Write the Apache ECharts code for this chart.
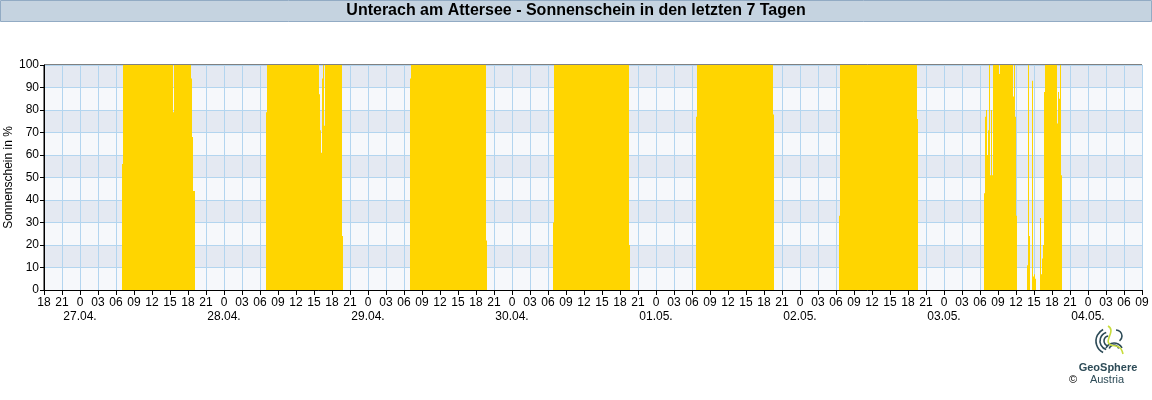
<!DOCTYPE html>
<html>
<head>
<meta charset="utf-8">
<script src="https://cdn.jsdelivr.net/npm/echarts@6/dist/echarts.min.js"></script>
<style>
html,body{margin:0;padding:0;background:#fff;}
#chart{width:1152px;height:400px;}
</style>
</head>
<body>
<div id="chart"></div>
<script>
// Tick/date labels
const dateLabels = ['27.04.', '28.04.', '29.04.', '30.04.', '01.05.', '02.05.', '03.05.', '04.05.'];
const yTicks = [0, 10, 20, 30, 40, 50, 60, 70, 80, 90, 100];

// Sunshine (% per 10 min) – change points per day [time, value]; value holds until next point
const day1 = [['07:00',56],['07:10',100],['15:30',79],['15:40',100],['18:30',94],['18:40',68],['18:50',44],['19:10',0]];
const day2 = [['07:00',79],['07:10',100],['15:50',87],['16:00',71],['16:10',61],['16:20',94],['16:30',100],['16:40',73],['16:50',100],['19:40',24],['19:50',0]];
const day3 = [['07:00',94],['07:10',100],['19:40',22],['19:50',0]];
const day4 = [['06:50',30],['07:00',100],['19:30',20],['19:40',0]];
const day5 = [['06:40',77],['06:50',100],['19:30',78],['19:40',0]];
const day6 = [['06:30',33],['06:40',100],['19:30',76],['19:40',0]];
const day7 = [['06:40',43],['06:50',77],['07:00',80],['07:10',60],['07:20',71],['07:30',100],['07:40',51],['07:50',80],['08:00',51],['08:10',100],
              ['09:10',96],['09:20',100],['11:30',86],['11:40',100],['11:50',77],['12:00',33],['12:10',0],
              ['13:50',11],['14:00',100],['14:10',24],['14:20',0],['14:40',93],['14:50',6],['15:00',7],['15:10',5],['15:20',0],
              ['16:00',32],['16:10',7],['16:20',14],['16:30',20],['16:40',88],['16:50',100],['18:50',74],['19:00',88],['19:10',85],['19:20',100],['19:30',51],['19:40',0]];
const days = [day1, day2, day3, day4, day5, day6, day7];

// segments [startHour, endHour, value], hours since 27.04. 00:00
const segments = [];
days.forEach((d, i) => {
  const pts = d.map(([t, v]) => {
    const [h, m] = t.split(':').map(Number);
    return [i * 24 + h + m / 60, v];
  });
  for (let k = 0; k < pts.length - 1; k++) {
    if (pts[k][1] > 0) segments.push([pts[k][0], pts[k + 1][0], pts[k][1]]);
  }
});

const FONT = "'Liberation Sans', Arial, sans-serif";
const chart = echarts.init(document.getElementById('chart'), null, {renderer: 'canvas'});
const teal = '#2d4b57';
chart.setOption({
  animation: false,
  backgroundColor: '#fff',
  grid: {left: 44, right: 10, top: 65, bottom: 110, containLabel: false, outerBoundsMode: 'none',
         show: true, borderColor: '#000', borderWidth: 1, backgroundColor: 'transparent'},
  xAxis: {
    type: 'value', min: -6, max: 177, interval: 3,
    axisLine: {show: true, onZero: false, lineStyle: {color: '#000', width: 1}},
    axisTick: {show: true, length: 5, lineStyle: {color: '#000'}},
    splitLine: {show: true, lineStyle: {color: '#b3d5ef', width: 1}},
    axisLabel: {
      color: '#000', fontFamily: FONT, fontSize: 12, margin: 6, lineHeight: 14,
      showMinLabel: true, showMaxLabel: true, hideOverlap: false,
      formatter: function (v) {
        const h = ((v % 24) + 24) % 24;
        if (h === 0) {
          const d = Math.round(v / 24);
          return '0\n' + (dateLabels[d] || '');
        }
        return String(h).padStart(2, '0');
      }
    }
  },
  yAxis: {
    type: 'value', min: yTicks[0], max: yTicks[yTicks.length - 1], interval: 10,
    name: 'Sonnenschein in %', nameLocation: 'middle', nameGap: 29, nameMoveOverlap: false,
    nameTextStyle: {color: '#000', fontFamily: FONT, fontSize: 12},
    axisLine: {show: true, onZero: false, lineStyle: {color: '#000', width: 1}},
    axisTick: {show: true, length: 4, lineStyle: {color: '#000'}},
    axisLabel: {color: '#000', fontFamily: FONT, fontSize: 12, margin: 5},
    splitLine: {show: true, lineStyle: {color: '#b3d5ef', width: 1}},
    splitArea: {show: true, areaStyle: {color: ['#f6f8fb', '#e4e9f2']}}
  },
  series: [{
    type: 'custom', data: segments, silent: true, z: 3,
    encode: {x: [0, 1], y: 2},
    renderItem: function (params, api) {
      const p0 = api.coord([api.value(0), api.value(2)]);
      const p1 = api.coord([api.value(1), 0]);
      return {
        type: 'rect',
        shape: {x: p0[0], y: p0[1], width: p1[0] - p0[0], height: p1[1] - p0[1]},
        style: {fill: '#ffd500'}
      };
    }
  }],
  graphic: [
    {type: 'rect', shape: {x: 0.5, y: 0.5, width: 1151, height: 21}, style: {fill: '#c5d3e0', stroke: '#92abc4', lineWidth: 1}, z: 10},
    {type: 'text', x: 576, y: 11, style: {text: 'Unterach am Attersee - Sonnenschein in den letzten 7 Tagen', font: 'bold 16px ' + FONT, fill: '#000', align: 'center', verticalAlign: 'middle'}, z: 11},
    // logo emblem
    {type: 'arc', shape: {cx: 1109, cy: 341, r: 5, startAngle: Math.PI * 0.55, endAngle: Math.PI * 1.45}, style: {stroke: teal, lineWidth: 1.6, fill: 'none'}, z: 11},
    {type: 'arc', shape: {cx: 1109, cy: 341, r: 9, startAngle: Math.PI * 0.6, endAngle: Math.PI * 1.4}, style: {stroke: teal, lineWidth: 1.6, fill: 'none'}, z: 11},
    {type: 'arc', shape: {cx: 1109, cy: 341, r: 13, startAngle: Math.PI * 0.65, endAngle: Math.PI * 1.35}, style: {stroke: teal, lineWidth: 1.6, fill: 'none'}, z: 11},
    {type: 'arc', shape: {cx: 1114, cy: 350, r: 5, startAngle: Math.PI * 1.1, endAngle: Math.PI * 1.9}, style: {stroke: teal, lineWidth: 1.6, fill: 'none'}, z: 11},
    {type: 'arc', shape: {cx: 1114, cy: 352, r: 9, startAngle: Math.PI * 1.15, endAngle: Math.PI * 1.85}, style: {stroke: teal, lineWidth: 1.6, fill: 'none'}, z: 11},
    {type: 'arc', shape: {cx: 1116, cy: 336, r: 6, startAngle: -Math.PI * 0.5, endAngle: Math.PI * 0.3}, style: {stroke: teal, lineWidth: 1.6, fill: 'none'}, z: 11},
    {type: 'bezierCurve', shape: {x1: 1108, y1: 326, x2: 1116, y2: 346, cpx1: 1118, cpy1: 332, cpx2: 1098, cpy2: 344}, style: {stroke: '#c8dc3c', lineWidth: 1.6, fill: 'none'}, z: 11},
    {type: 'bezierCurve', shape: {x1: 1116, y1: 346, x2: 1123, y2: 354, cpx1: 1121, cpy1: 347, cpx2: 1122, cpy2: 350}, style: {stroke: '#c8dc3c', lineWidth: 1.6, fill: 'none'}, z: 11},
    {type: 'text', x: 1108, y: 368, style: {text: 'GeoSphere', font: 'bold 11px ' + FONT, fill: teal, align: 'center', verticalAlign: 'middle'}, z: 11},
    {type: 'text', x: 1107, y: 380, style: {text: 'Austria', font: '11px ' + FONT, fill: teal, align: 'center', verticalAlign: 'middle'}, z: 11},
    {type: 'text', x: 1073, y: 380, style: {text: '©', font: '11px ' + FONT, fill: '#000', align: 'center', verticalAlign: 'middle'}, z: 11}
  ]
});
</script>
</body>
</html>
